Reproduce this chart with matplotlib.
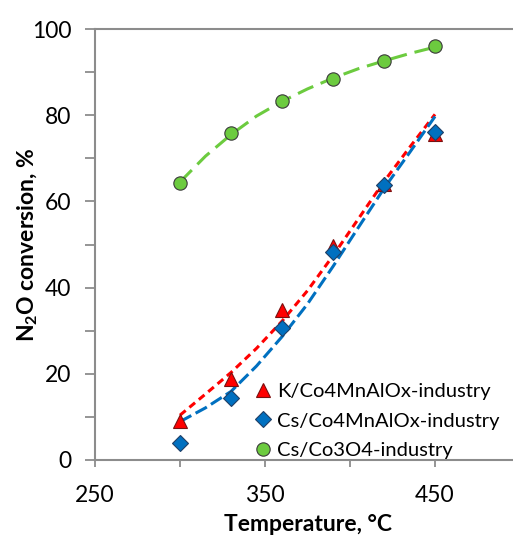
import matplotlib as mpl
from matplotlib import pyplot as plt

mpl.use("agg")

mpl.rcParams["font.family"] = ["Lato", "DejaVu Sans"]
mpl.rcParams["mathtext.fontset"] = "custom"
mpl.rcParams["mathtext.rm"] = "Lato"
mpl.rcParams["mathtext.bf"] = "Lato:bold"

# measured points
temp = [300, 330, 360, 390, 420, 450]
k_co4mn = [9.0, 18.8, 34.7, 49.6, 64.0, 75.6]
cs_co4mn = [3.9, 14.4, 30.6, 48.3, 63.8, 76.0]
cs_co3o4 = [64.2, 75.8, 83.3, 88.3, 92.5, 96.0]

# dashed trend curves
curve_temp = [300, 315, 330, 345, 360, 375, 390, 405, 420, 435, 450]
k_curve = [10.4, 15.3, 20.3, 25.9, 32.2, 39.3, 47.4, 56.0, 64.6, 72.5, 80.2]
cs_curve = [8.9, 12.1, 15.9, 21.8, 28.6, 36.2, 44.9, 54.0, 63.0, 71.3, 79.7]
co3o4_curve = [64.5, 70.5, 75.5, 79.8, 83.2, 86.1, 88.6, 90.8, 92.6, 94.3, 95.8]

labels = ["K/Co4MnAlOx-industry", "Cs/Co4MnAlOx-industry", "Cs/Co3O4-industry"]

red = "#FF0000"
blue = "#0070C0"
green = "#6CCB3F"
axis_grey = "#8C8C8C"

fig = plt.figure(figsize=(5.13, 5.36), dpi=100)
ax = fig.add_axes([95 / 513, 76 / 536, 425 / 513, 431 / 536])

ax.plot(curve_temp, k_curve, color=red, lw=2.2, dashes=(2.4, 1.6), zorder=2)
ax.plot(curve_temp, cs_curve, color=blue, lw=2.2, dashes=(4.2, 1.6), zorder=2)
ax.plot(curve_temp, co3o4_curve, color=green, lw=2.2, dashes=(5.5, 2.6), zorder=2)

ax.plot(temp, k_co4mn, ls="", marker="^", ms=10, mfc=red, mec="#7A1010",
        mew=0.8, label=labels[0], zorder=3)
ax.plot(temp, cs_co4mn, ls="", marker="D", ms=8.3, mfc=blue, mec="#1F3F66",
        mew=0.8, label=labels[1], zorder=4)
ax.plot(temp, cs_co3o4, ls="", marker="o", ms=9.6, mfc=green, mec="#3A3A3A",
        mew=0.8, label=labels[2], zorder=3)

ax.set_xlim(250, 500)
ax.set_ylim(0, 100)
ax.set_xticks([250, 350, 450])
ax.set_xticks([300, 400, 500], minor=True)
ax.set_yticks([0, 20, 40, 60, 80, 100])
ax.set_yticks([10, 30, 50, 70, 90], minor=True)

ax.tick_params(axis="both", which="both", direction="out", color=axis_grey,
               width=1.3, labelsize=16.5, labelcolor="black")
ax.tick_params(axis="y", which="both", length=7, pad=10)
ax.tick_params(axis="x", which="both", length=5, pad=13)

for side in ["left", "bottom", "top", "right"]:
    ax.spines[side].set_color(axis_grey)
    ax.spines[side].set_linewidth(1.5)

ax.set_xlabel("Temperature, °C", fontsize=16.5, fontweight="bold", labelpad=6)
ax.set_ylabel("N$_\\mathbf{2}$O conversion, %", fontsize=16.5,
              fontweight="bold", labelpad=-6)

ax.legend(loc="lower left", bbox_to_anchor=(0.372, 0.003), frameon=False,
          fontsize=14.5, handlelength=0.95, handletextpad=0.25,
          labelspacing=0.6, borderpad=0, borderaxespad=0)

fig.savefig("out.png", dpi=100)
plt.close(fig)
